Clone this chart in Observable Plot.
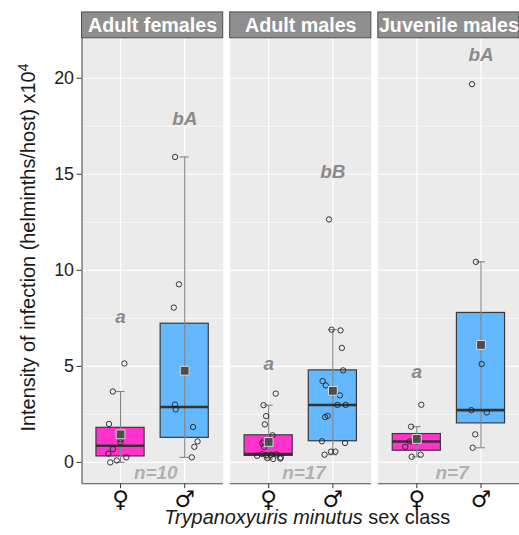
<!DOCTYPE html>
<html><head><meta charset="utf-8">
<script src="https://cdn.jsdelivr.net/npm/d3@7"></script>
<script src="https://cdn.jsdelivr.net/npm/@observablehq/plot@0.6"></script>
<style>
body{margin:0;overflow:hidden;background:#fff}
#chart svg{display:block;overflow:visible}
</style>
</head><body><div id="chart"></div>
<script>
// ---- data ----
const panels = ["Adult females", "Adult males", "Juvenile males"];
const sexes = ["♀", "♂"];
const panelN = [10, 17, 7];

const adultFemalesF = [5.15, 3.69, 2.0, 1.05, 0.69, 0.46, 0.26, 0.1, 0.0, 1.2];
const adultFemalesFJit = [0.06, -0.12, -0.18, 0.0, -0.12, -0.19, 0.09, -0.06, -0.16, 0.0];
const adultFemalesM = [15.9, 9.27, 8.06, 3.01, 2.76, 1.84, 1.09, 0.81, 0.26, 4.7];
const adultFemalesMJit = [-0.15, -0.09, -0.17, -0.15, -0.14, 0.13, 0.2, 0.15, 0.11, 0.0];

const adultMalesF = [0.18, 0.2, 0.22, 0.25, 0.34, 0.38, 0.4, 0.42, 0.43, 0.8, 1.0, 1.1, 1.41, 1.98, 2.41, 2.98, 3.58];
const adultMalesFJit = [0.07, 0.18, -0.02, 0.19, -0.18, -0.04, 0.04, 0.12, -0.1, -0.07, -0.1, -0.08, 0.06, -0.06, -0.04, -0.08, 0.11];
const adultMalesM = [12.65, 6.91, 6.87, 5.96, 4.79, 4.23, 4.01, 3.49, 2.99, 2.99, 2.42, 2.36, 1.1, 1.01, 0.56, 0.56, 0.4];
const adultMalesMJit = [-0.06, -0.02, 0.12, 0.14, 0.16, -0.16, -0.11, 0.11, 0.07, 0.2, -0.08, -0.12, -0.17, 0.19, -0.03, 0.04, -0.13];

const juvMalesF = [3.0, 1.86, 1.09, 0.81, 0.29, 0.4, 1.09];
const juvMalesFJit = [0.07, -0.09, -0.11, -0.18, -0.08, 0.06, 0.0];
const juvMalesM = [5.12, 2.72, 2.6, 1.46, 0.76, 10.44, 19.69];
const juvMalesMJit = [0.01, -0.15, 0.09, -0.09, -0.13, -0.08, -0.14];

const letterText = [["a", "bA"], ["a", "bB"], ["a", "bA"]];
const letterY = [[7.58, 17.88], [5.15, 15.14], [4.72, 21.2]];

const yTicks = [0, 5, 10, 15, 20];
const yMinorTicks = [2.5, 7.5, 12.5, 17.5];

const femaleColor = "#FF33CC";
const maleColor = "#63B8FF";

// ---- tables ----
const series = [
  [adultFemalesF, adultFemalesFJit, adultFemalesM, adultFemalesMJit],
  [adultMalesF, adultMalesFJit, adultMalesM, adultMalesMJit],
  [juvMalesF, juvMalesFJit, juvMalesM, juvMalesMJit]
];
const points = [];
const stats = [];
const letters = [];
panels.forEach((p, i) => {
  [0, 1].forEach(s => {
    const vals = series[i][s * 2], jit = series[i][s * 2 + 1];
    vals.forEach((v, k) => points.push({panel: p, pos: s + 1, value: v, jit: jit[k]}));
    const sorted = vals.slice().sort(d3.ascending);
    const q1 = d3.quantile(sorted, 0.25), q3 = d3.quantile(sorted, 0.75), med = d3.quantile(sorted, 0.5);
    const iqr = q3 - q1;
    const lo = d3.min(sorted.filter(v => v >= q1 - 1.5 * iqr));
    const hi = d3.max(sorted.filter(v => v <= q3 + 1.5 * iqr));
    stats.push({panel: p, pos: s + 1, q1, q3, med, lo, hi, mean: d3.mean(vals), fill: s ? maleColor : femaleColor});
    letters.push({panel: p, pos: s + 1, text: letterText[i][s], y: letterY[i][s]});
  });
});
const nLabels = panels.map((p, i) => ({panel: p, text: "n=" + panelN[i]}));

const yDomain = [-1.11, 22.08];
const xDomain = [0.4, 2.6];
const boxHalf = 0.375, capHalf = 0.07;
const stripUnits = 1.346;

const plot = Plot.plot({
  width: 522,
  height: 535,
  marginLeft: 82,
  marginRight: 0,
  marginTop: 38,
  marginBottom: 49,
  style: {fontFamily: "'Liberation Sans', Arial, sans-serif", background: "white", color: "#222"},
  fx: {domain: panels, paddingInner: 0.05, paddingOuter: 0, axis: null, label: null},
  x: {domain: xDomain, label: null},
  y: {domain: yDomain, label: null},
  marks: [
    Plot.frame({fill: "#EBEBEB", stroke: "none"}),
    Plot.gridY(yMinorTicks, {stroke: "white", strokeOpacity: 1, strokeWidth: 0.6}),
    Plot.gridY(yTicks, {stroke: "white", strokeOpacity: 1, strokeWidth: 1.2}),
    Plot.gridX([1, 2], {stroke: "white", strokeOpacity: 1, strokeWidth: 1.2}),
    Plot.rect(stats, {fx: "panel", x1: d => d.pos - boxHalf, x2: d => d.pos + boxHalf, y1: "q1", y2: "q3", fill: "fill", stroke: "#3a3a3a", strokeWidth: 1.2}),
    Plot.ruleX(stats, {fx: "panel", x: "pos", y1: "lo", y2: "hi", stroke: "#858585", strokeWidth: 1.1}),
    Plot.ruleY(stats, {fx: "panel", x1: d => d.pos - capHalf, x2: d => d.pos + capHalf, y: "hi", stroke: "#858585", strokeWidth: 1.1}),
    Plot.ruleY(stats, {fx: "panel", x1: d => d.pos - capHalf, x2: d => d.pos + capHalf, y: "lo", stroke: "#858585", strokeWidth: 1.1}),
    Plot.ruleY(stats, {fx: "panel", x1: d => d.pos - boxHalf, x2: d => d.pos + boxHalf, y: "med", stroke: "#333", strokeWidth: 2.6}),
    Plot.dot(points, {fx: "panel", x: d => d.pos + d.jit, y: "value", r: 2.7, stroke: "#222", strokeWidth: 0.9, fill: "none"}),
    Plot.dot(stats, {fx: "panel", x: "pos", y: "mean", symbol: "square", r: 5, fill: "#4d4d4d", stroke: "#d9d9d9", strokeWidth: 1}),
    Plot.text(letters, {fx: "panel", x: "pos", y: "y", text: "text", fill: "#8a8a8a", fontSize: 19, fontWeight: "bold", fontStyle: "italic"}),
    Plot.text(nLabels, {fx: "panel", x: () => 1.55, y: () => -0.55, text: "text", fill: "#b0b0b0", fontSize: 19, fontWeight: "bold", fontStyle: "italic"}),
    Plot.barY(panels, {fx: d => d, y1: () => yDomain[1], y2: () => yDomain[1] + stripUnits, fill: "#8f8f8f", stroke: "#4d4d4d", strokeWidth: 1}),
    Plot.text(panels, {fx: d => d, text: d => d, frameAnchor: "top", lineAnchor: "middle", dy: -13, fill: "white", fontSize: 19.8, fontWeight: "bold"}),
    Plot.ruleY([yDomain[0]], {stroke: "#4d4d4d", strokeWidth: 1.1}),
    Plot.ruleX([panels[0]], {fx: d => d, x: () => xDomain[0], stroke: "#4d4d4d", strokeWidth: 1.1}),
    Plot.axisY({ticks: yTicks, tickSize: 5, tickPadding: 3, fontSize: 18, label: null, color: "#222", stroke: "#333"}),
    Plot.axisX({ticks: [1, 2], tickFormat: d => sexes[d - 1], tickSize: 5, tickPadding: 2, fontSize: 23, fontFamily: "'DejaVu Sans'", label: null, color: "#111", stroke: "#333"})
  ]
});

const svg = d3.select(plot);
const yt = svg.append("text")
  .attr("transform", "translate(35,249) rotate(-90)")
  .attr("text-anchor", "middle")
  .attr("font-size", 20)
  .attr("fill", "#1a1a1a")
  .attr("font-family", "'Liberation Sans', Arial, sans-serif");
yt.append("tspan").text("Intensity of infection (helminths/host) x10");
yt.append("tspan").attr("dy", -7).attr("font-size", 14).text("4");

const xt = svg.append("text")
  .attr("x", 309)
  .attr("y", 527)
  .attr("text-anchor", "middle")
  .attr("font-size", 20)
  .attr("fill", "#1a1a1a")
  .attr("font-family", "'Liberation Sans', Arial, sans-serif");
xt.append("tspan").attr("font-style", "italic").text("Trypanoxyuris minutus");
xt.append("tspan").text(" sex class");

document.getElementById("chart").appendChild(plot);
</script>
</body></html>
